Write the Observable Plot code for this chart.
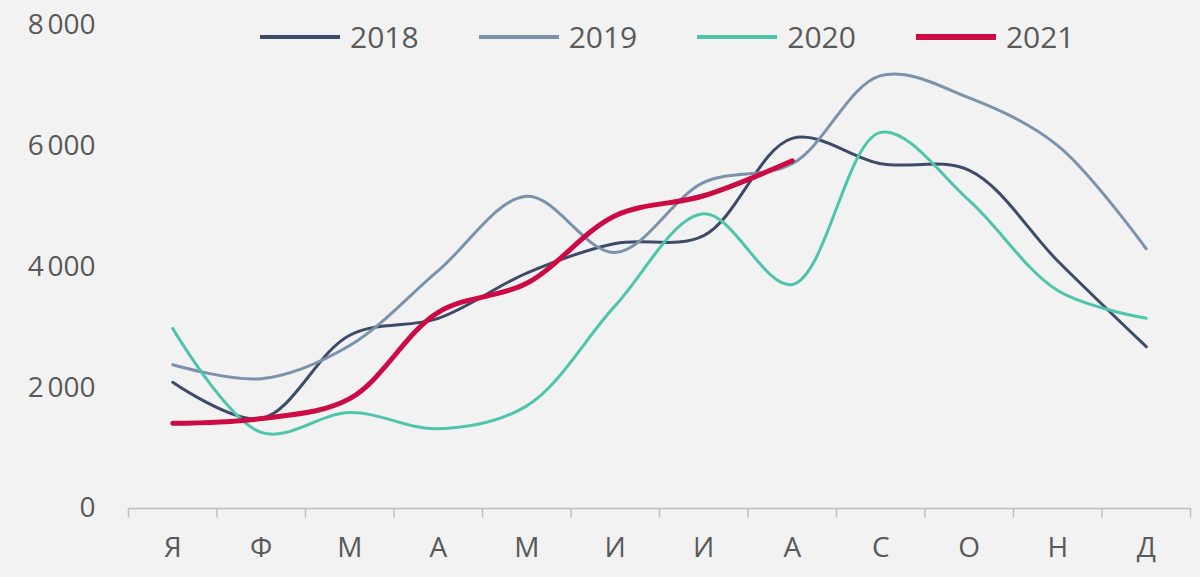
<!DOCTYPE html>
<html><head><meta charset="utf-8">
<script src="https://cdn.jsdelivr.net/npm/d3@7"></script>
<script src="https://cdn.jsdelivr.net/npm/@observablehq/plot@0.6"></script>
<style>
body{margin:0;background:#f2f2f2;font-family:"Open Sans",sans-serif;}
#wrap{position:relative;width:1200px;height:577px;}
#legend{position:absolute;top:16px;left:260px;display:flex;gap:0;font-size:30px;color:#595959;}
.item{display:flex;align-items:center;margin-right:60px;}
.sw{width:80px;height:4px;margin-right:10px;}
</style></head><body>
<div id="wrap"><div id="legend"></div><div id="chart"></div></div>
<script>
const months = ["Я","Ф","М","А","М","И","И","А","С","О","Н","Д"];
const years = ["2018","2019","2020","2021"];
const colors = ["#3e4b68","#7a92aa","#4ec5aa","#cc0a44"];
const v2018 = [2090,1490,2870,3150,3900,4390,4520,6130,5710,5600,4100,2680];
const v2019 = [2380,2150,2700,3940,5170,4240,5400,5710,7170,6800,6010,4300];
const v2020 = [2980,1260,1590,1320,1700,3360,4880,3710,6230,5100,3610,3150];
const v2021 = [1410,1490,1820,3250,3730,4850,5180,5760];
const series = [v2018,v2019,v2020,v2021];
const data = series.flatMap((s,k)=>s.map((v,i)=>({x:i,y:v,year:years[k]})));
const fmt = d=>d3.format(",")(d).replace(/,/g,"\u202f");
const chart = Plot.plot({
  width:1200,height:577,marginTop:25,marginBottom:69,marginLeft:128,marginRight:10,
  style:{background:"#f2f2f2",fontFamily:"Open Sans, sans-serif",fontSize:"28px",color:"#595959"},
  x:{domain:[-0.5,11.5],axis:null},
  y:{domain:[0,8000],ticks:[0,2000,4000,6000,8000],tickFormat:fmt,tickSize:0,tickPadding:33,label:null},
  color:{domain:years,range:colors},
  marks:[
    Plot.ruleY([0],{stroke:"#bfbfbf",strokeWidth:1.5}),
    Plot.ruleX(d3.range(13).map(i=>i-0.5),{y1:0,y2:-160,stroke:"#bfbfbf",strokeWidth:1.5}),
    Plot.text(months,{x:(d,i)=>i,y:0,dy:40,text:d=>d,fill:"#595959",fontSize:28}),
    ...years.map((yr,k)=>Plot.line(data.filter(d=>d.year===yr),{x:"x",y:"y",stroke:colors[k],strokeWidth:yr==="2021"?5:3,curve:"catmull-rom"}))
  ]
});
document.getElementById("chart").append(chart);
const lg=document.getElementById("legend");
years.forEach((y,k)=>{const it=document.createElement("div");it.className="item";
it.innerHTML=`<div class="sw" style="background:${colors[k]};height:${y==="2021"?6:4}px"></div><span>${y}</span>`;lg.append(it);});
</script></body></html>
